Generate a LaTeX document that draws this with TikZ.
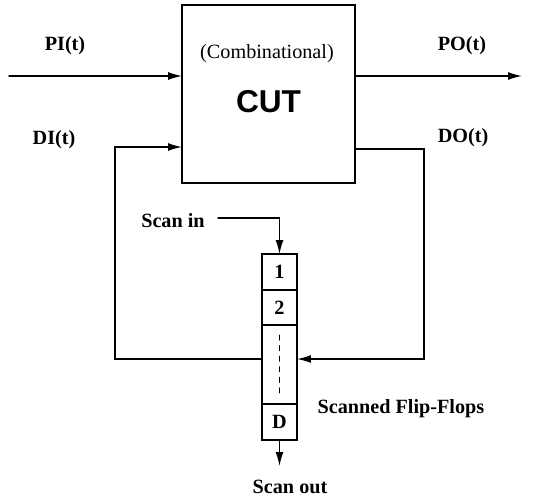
\documentclass[tikz,border=0pt]{standalone}
\usepackage{fontspec}
\setmainfont{Liberation Serif}
\newfontfamily\cutfont{Liberation Sans}
\usetikzlibrary{arrows.meta}

\begin{document}
\begin{tikzpicture}[x=0.02cm,y=-0.02cm,>={Latex[length=2.8mm,width=1.6mm]},font=\bfseries\fontsize{11.5}{13}\selectfont,line cap=round,thick]
\useasboundingbox (0,0) rectangle (545,497);
% combinational block
\node[draw,minimum width=3.46cm,minimum height=3.56cm,outer sep=0pt] (cut) at (268.5,94) {};
\node[font=\fontsize{11.5}{13}\selectfont] (comb) at (267,54) {(Combinational)};
\node (cutlbl) at (268.5,102) {\cutfont\bfseries\fontsize{18}{20}\selectfont CUT};
% scan chain cells
\tikzset{ffcell/.style={draw,minimum width=0.7cm,outer sep=0pt,inner sep=0pt}}
\node[ffcell,minimum height=0.72cm] (ff1) at (279.5,272) {1};
\node[ffcell,minimum height=0.70cm,anchor=north] (ff2) at (ff1.south) {2};
\node[ffcell,minimum height=1.58cm,anchor=north] (ffd) at (ff2.south) {};
\node[ffcell,minimum height=0.72cm,anchor=north] (ffn) at (ffd.south) {D};
\draw[dashed,thin] ([yshift=-0.2cm]ffd.north) -- ([yshift=0.2cm]ffd.south);
% labels
\node (pi) at (65,46) {PI(t)};
\node (po) at (462,46) {PO(t)};
\node (di) at (54,140) {DI(t)};
\node (do) at (463,138) {DO(t)};
\node (sin) at (173,221) {Scan in};
\node (sout) at (290,487) {Scan out};
\node[anchor=west] (sff) at (311,409) {Scanned Flip-Flops};
% wires
\coordinate (piin) at (9,76);
\coordinate (poout) at (522,76);
\draw[->] (piin) -- (piin -| cut.west);
\draw[->] (cut.east |- poout) -- (poout);
\draw[->] (ffd.west |- 0,359) -- (115,359) -- (115,147) -- (cut.west |- 0,147);
\draw[->] (cut.east |- 0,149) -- (424,149) -- (424,359) -- (ffd.east |- 0,359);
\draw[->] (218,218) -- (279.5,218) -- (ff1.north);
\draw[->] (ffn.south) -- (279.5,466);
\end{tikzpicture}
\end{document}
